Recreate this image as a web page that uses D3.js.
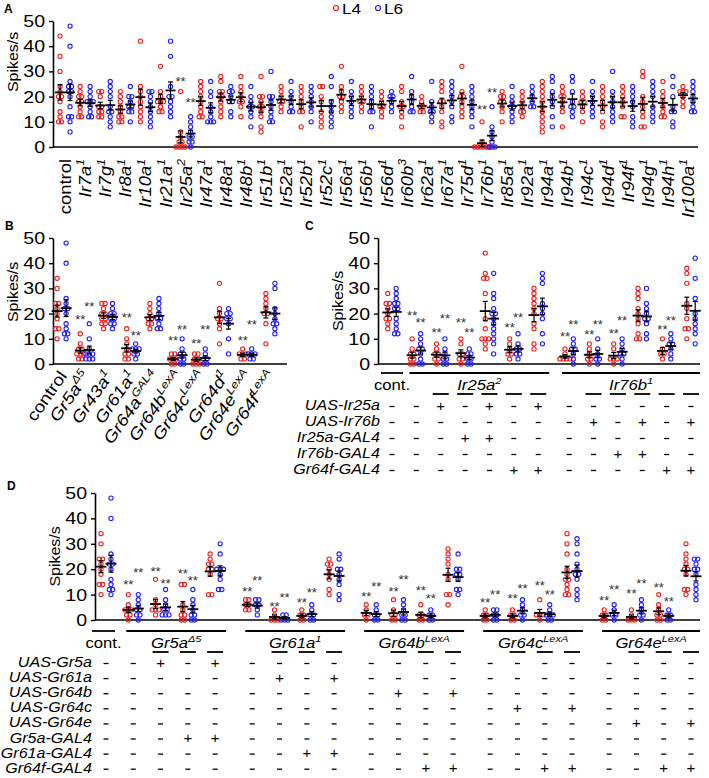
<!DOCTYPE html>
<html><head><meta charset="utf-8">
<script src="https://cdn.jsdelivr.net/npm/d3@7"></script>
<style>body{margin:0;background:#fff}svg text{font-family:"Liberation Sans",Arial,sans-serif}</style>
</head><body><svg id="c" width="709" height="778"></svg>
<script>
// ================= DATA =================
const yTicks = [0, 10, 20, 30, 40, 50];
const seriesNames = ["L4", "L6"];

// ---- Panel A ----
const labelsA = ["control","Ir7a","Ir7g","Ir8a","Ir10a","Ir21a","Ir25a","Ir47a","Ir48a","Ir48b","Ir51b","Ir52a","Ir52b","Ir52c","Ir56a","Ir56b","Ir56d","Ir60b","Ir62a","Ir67a","Ir75d","Ir76b","Ir85a","Ir92a","Ir94a","Ir94b","Ir94c","Ir94d","Ir94f","Ir94g","Ir94h","Ir100a"];
const supA = ["","1","1","1","1","1","2","1","1","1","1","1","1","1","1","1","1","3","1","1","1","1","1","1","1","1","1","1","1","1","1","1"];
const A_L4 = [
 [44,36,30,24,22,20,20,18,14,12,10,10],
 [24,22,20,20,18,18,16,14,12,12],
 [22,22,20,16,16,14,14,12,12],
 [22,20,18,16,14,12,12,10,10],
 [42,24,22,20,18,16,14,12,10],
 [32,22,20,18,18,18,16,14,14],
 [22,6,4,2,2,0,0,0,0],
 [26,24,22,20,18,16,14,12,12],
 [28,26,22,22,20,20,18,16,14,12],
 [28,24,22,20,18,18,16,12],
 [28,20,20,18,16,16,14,12,8,6],
 [24,22,20,18,18,16,14],
 [24,22,20,18,16,14,14,8],
 [24,24,20,18,14,12,10,8],
 [32,24,22,20,20,18,16,14],
 [24,22,20,18,18,16,14],
 [22,20,18,16,16,14,12],
 [24,22,18,16,16,14,12,8],
 [20,18,16,16,14,14],
 [26,24,22,18,18,16,14,10,8],
 [32,22,20,20,18,16,14,12],
 [10,2,0,0,0,0,0,0],
 [22,20,20,18,18,16,14,10],
 [22,20,18,16,14,14,12],
 [26,24,22,20,18,16,14,12,10,8,6],
 [24,22,20,20,18,16,14,8],
 [22,20,18,18,16,14,10],
 [24,22,20,18,16,14,10,8],
 [24,22,20,18,16,12,12],
 [30,28,20,18,16,14,12,8,8],
 [26,22,20,18,16,14,12,12],
 [24,22,22,22,20,18,16]
];
const A_L6 = [
 [48,40,26,24,24,22,22,20,16,12,12,10,6],
 [24,22,20,18,18,18,16,14,12,12],
 [26,24,22,20,16,14,14,12,10,8],
 [24,20,20,18,16,16,14,14,10],
 [22,22,20,18,16,14,12,10,8],
 [42,36,24,20,20,18,16,14,12],
 [12,10,8,6,4,4,2,2,0],
 [26,22,20,16,14,12,10,10,10],
 [24,22,22,20,18,18,14,12],
 [24,20,18,16,16,14,12,8],
 [30,20,20,18,16,14,12,10,10],
 [26,22,20,18,16,14,14],
 [24,22,20,18,16,14,10],
 [28,24,18,16,14,12,10,8],
 [26,22,20,18,16,14,12],
 [24,22,20,18,16,14,14,8],
 [22,20,20,18,16,14],
 [28,22,20,18,16,14,14],
 [26,18,16,14,14,12,10],
 [26,24,22,20,18,16,12,10],
 [24,22,20,18,16,14,12,8],
 [16,8,6,4,2,0,0,0],
 [24,20,18,16,16,14,12,10],
 [24,22,20,18,16,16],
 [28,26,22,20,18,16,12,8],
 [28,26,22,18,16,16,14,12],
 [26,22,20,18,16,14,12],
 [30,22,20,18,16,14,12,10],
 [24,22,20,18,16,12,10,8],
 [26,24,22,20,16,14,12,10],
 [28,24,20,16,14,14,10,8],
 [26,24,22,20,18,16,14,14]
];
const starsA_L4 = {6: 27, 21: 16};
const starsA_L6 = {6: 19, 21: 23};

// ---- Panel B ----
const labelsB = ["control","Gr5a","Gr43a","Gr61a","Gr64a","Gr64b","Gr64c","Gr64d","Gr64e","Gr64f"];
const supB = ["","Δ5","1","1","GAL4","LexA","LexA","1","LexA","LexA"];
const B_L4 = [
 [34,30,24,24,22,20,18,14,14,10],
 [12,8,6,6,4,4,4,2,2],
 [24,24,22,20,20,18,18,16,16,14],
 [14,10,8,6,4,4,2,2],
 [24,22,20,18,18,16,16,14],
 [4,4,2,2,2,0,0],
 [4,4,2,2,0,0,0],
 [32,22,20,18,18,16,14,8],
 [6,4,4,4,2,2],
 [28,26,24,22,20,20,16,8]
];
const B_L6 = [
 [48,40,26,24,22,22,20,16,14,12,12,10],
 [16,10,6,4,4,4,2,2,2],
 [24,22,20,20,18,18,16,16,14],
 [8,6,6,6,4,4,2],
 [26,24,22,20,18,18,16,14,14],
 [10,6,4,4,2,2,0,0],
 [6,4,2,2,0,0],
 [22,20,20,18,18,16,10,4],
 [6,4,4,4,2,2],
 [32,30,22,20,18,16,16,14,12]
];
const starsB_L4 = [null,19,null,19.5,null,10.5,9.5,null,10.5,null];
const starsB_L6 = [null,24,null,12.5,null,15,15,null,17,null];

// ---- Panel C ----
const groupsC = ["cont.","Ir25a","Ir76b"];
const groupSupC = ["","2","1"];
const groupSizeC = [1,6,6];
const rowsC = ["UAS-Ir25a","UAS-Ir76b","Ir25a-GAL4","Ir76b-GAL4","Gr64f-GAL4"];
const tableC = [
 "--+-+-+------",
 "--------+-+-+",
 "---++--------",
 "---------++--",
 "-----++----++"
];
const C_L4 = [
 [28,24,24,22,20,18,18,16,14],
 [10,6,4,4,2,2,0,0],
 [8,6,4,4,2,2,0],
 [10,8,4,4,2,2,0],
 [44,36,34,34,28,18,14,10,10,10,8,6],
 [10,8,6,4,4,2],
 [30,28,26,24,22,20,16,14,8,6],
 [6,4,2,2,2,2],
 [8,6,4,2,2,0],
 [8,6,2,2,2,0],
 [30,28,26,22,20,18,16,12,10,10],
 [10,6,4,4,2],
 [38,36,32,24,22,18,14,14,10]
];
const C_L6 = [
 [30,28,26,24,24,22,22,18,16,14,12,12],
 [12,10,8,6,6,4,2,0,0],
 [10,6,4,2,2,0,0],
 [6,4,4,2,2,0,0],
 [36,28,26,22,20,20,18,16,14,12,10,8,4],
 [12,8,6,6,4,4,2],
 [36,34,32,24,22,20,18,12,8],
 [10,8,6,6,4,2,0],
 [10,6,4,2,2,0],
 [10,8,6,4,4,2,0],
 [30,24,22,20,18,18,16,12,10],
 [12,10,8,8,6,4,2],
 [42,34,26,20,18,16,14,12,8]
];
const starsC_L4 = [null,20.5,13.5,17.7,null,15.5,null,12.3,13,13.2,null,14.8,null];
const starsC_L6 = [null,17.5,19.4,13.5,null,19.8,null,17,17,18.6,null,18.6,null];

// ---- Panel D ----
const groupsD = ["cont.","Gr5a","Gr61a","Gr64b","Gr64c","Gr64e"];
const groupSupD = ["","Δ5","1","LexA","LexA","LexA"];
const groupSizeD = [1,4,4,4,4,4];
const rowsD = ["UAS-Gr5a","UAS-Gr61a","UAS-Gr64b","UAS-Gr64c","UAS-Gr64e","Gr5a-GAL4","Gr61a-GAL4","Gr64f-GAL4"];
const tableD = [
 "--+-+----------------",
 "------+-+------------",
 "----------+-+--------",
 "--------------+-+----",
 "------------------+-+",
 "---++----------------",
 "-------++------------",
 "-----------++--++--++"
];
const D_L4 = [
 [34,30,24,24,22,20,18,14,14,10],
 [10,6,4,4,4,2,2,0],
 [16,8,6,4,4,4,2],
 [14,14,6,4,2,2,0,0],
 [26,24,22,22,20,20,18,10,10],
 [8,8,6,6,4,4],
 [4,2,0,0,0],
 [4,2,2,0,0],
 [24,22,22,20,18,16,12,10],
 [6,4,2,2,0],
 [8,4,2,2,0,0],
 [6,2,2,0,0],
 [28,26,24,22,18,16,10,10,6],
 [4,2,2,0,0],
 [4,2,2,0,0],
 [8,2,2,2,0],
 [34,30,26,20,18,16,16,14,12,10,10],
 [4,2,2,0,0],
 [4,2,0,0,0],
 [10,6,4,2,2,0,0],
 [30,26,24,22,20,20,18,12,12,10]
];
const D_L6 = [
 [48,40,26,24,22,22,20,16,14,12,12,10],
 [10,8,6,4,4,2,2,0],
 [12,8,6,4,4,2,2,2],
 [12,8,6,4,2,2,0,0],
 [30,26,20,20,20,18,16,12,12],
 [8,8,6,6,4,2],
 [2,2,0,0,0],
 [6,4,2,2,0,0],
 [26,24,20,20,18,16,14,10,8],
 [6,4,2,2,0,0],
 [8,6,4,2,2,0,0],
 [4,2,2,0,0],
 [26,20,20,18,18,16,12,12,10],
 [4,4,2,2,0,0],
 [8,6,4,2,2,0],
 [6,4,2,2,2,0,0],
 [32,30,26,22,20,18,18,16,12,10,8],
 [6,4,2,2,0],
 [8,6,4,2,2,0],
 [4,2,2,0,0],
 [24,24,22,20,20,18,14,12,10,8]
];
const starsD_L4 = [null,15.1,20.3,19.4,null,12.5,6.6,8.1,null,10.6,12.5,12.9,null,8.1,9.8,14.7,null,8.8,11.5,13.8,null];
const starsD_L6 = [null,20,15.7,16.8,null,16.7,10.2,12.2,null,14.2,17.3,9.6,null,11.4,13.4,11.2,null,13.1,15.7,8.3,null];

// ================= DRAWING =================
const RED = "#f21d1d", BLUE = "#1f1fff";
const SX = 1.15;
const svg = d3.select("#c");
svg.append("rect").attr("width",709).attr("height",778).attr("fill","#fff");

function stext(g, x, y, main, sup, o) {
  const t = g.append("text")
    .attr("transform", `translate(${x},${y}) rotate(${o.rot||0}) scale(${o.sx||SX},1)`)
    .attr("text-anchor", o.anchor || "start")
    .attr("font-size", o.size)
    .attr("font-style", o.italic ? "italic" : "normal")
    .attr("font-weight", o.bold ? "bold" : "normal")
    .attr("fill", o.fill || "#000");
  t.append("tspan").text(main);
  if (sup) t.append("tspan").attr("font-size", o.size * 0.66).attr("dy", -o.size * 0.42).text(sup);
  return t;
}

function yAxis(g, y, x0, size) {
  const ax = g.append("g").attr("transform", `translate(${x0},0)`)
    .call(d3.axisLeft(y).tickValues(yTicks).tickSize(4).tickSizeOuter(0).tickPadding(3));
  ax.select(".domain").attr("stroke-width", 1.6);
  ax.selectAll(".tick line").attr("stroke-width", 1.4);
  ax.selectAll(".tick text").attr("font-size", size).attr("fill", "#000")
    .attr("font-family", '"Liberation Sans",Arial,sans-serif')
    .attr("x", -8 / SX).attr("transform", `scale(${SX},1)`);
}

function dots(g, cx, y, vals, color, step, half) {
  const counts = d3.rollup(vals, v => v.length, d => d);
  const seen = new Map();
  vals.forEach(v => {
    const n = counts.get(v), k = seen.get(v) || 0;
    seen.set(v, k + 1);
    const off = (k - (n - 1) / 2) * step;
    g.append("circle").attr("cx", cx + off).attr("cy", y(v)).attr("r", 2.1)
      .attr("fill", "none").attr("stroke", color).attr("stroke-width", 1.1);
  });
  const m = d3.mean(vals), se = d3.deviation(vals) / Math.sqrt(vals.length);
  const k = g.append("g").attr("stroke", "#000");
  k.append("line").attr("x1", cx - half).attr("x2", cx + half).attr("y1", y(m)).attr("y2", y(m)).attr("stroke-width", 1.8);
  k.append("line").attr("x1", cx).attr("x2", cx).attr("y1", y(m - se)).attr("y2", y(m + se)).attr("stroke-width", 1.2);
  [m - se, m + se].forEach(v => k.append("line").attr("x1", cx - 2.5).attr("x2", cx + 2.5).attr("y1", y(v)).attr("y2", y(v)).attr("stroke-width", 1.2));
}

function star(g, cx, y, v) {
  if (v == null) return;
  g.append("text").attr("x", cx).attr("y", y(v) + 7.5).attr("text-anchor", "middle")
    .attr("font-size", 13).attr("fill", "#333").text("**");
}

function ylabel(g, x, yc, size) {
  stext(g, x, yc, "Spikes/s", "", {rot: -90, anchor: "middle", size: size, sx: 1.1});
}

// ---------- Panel A ----------
{
  const g = svg.append("g");
  const y = d3.scaleLinear().domain([0, 50]).range([147, 21]);
  const x = d3.scaleBand().domain(d3.range(labelsA.length)).range([55, 698]);
  yAxis(g, y, 53, 17);
  g.append("line").attr("x1", 53).attr("x2", 698).attr("y1", y(0)).attr("y2", y(0)).attr("stroke", "#000").attr("stroke-width", 1.6);
  labelsA.forEach((lab, i) => {
    const c = x(i) + x.bandwidth() / 2;
    dots(g, c - 5, y, A_L4[i], RED, 3.0, 5);
    dots(g, c + 5, y, A_L6[i], BLUE, 3.0, 5);
    if (starsA_L4[i] != null) star(g, c - 5, y, starsA_L4[i]);
    if (starsA_L6[i] != null) star(g, c + 5, y, starsA_L6[i]);
    stext(g, c + 6, 159, lab, supA[i], {rot: -90, anchor: "end", size: 16, italic: i > 0});
  });
  ylabel(g, 18, 62, 14.5);
  stext(g, 4, 13, "A", "", {size: 12, bold: true, sx: 1});
  // legend
  g.append("circle").attr("cx", 336).attr("cy", 8).attr("r", 2.5).attr("fill", "none").attr("stroke", RED).attr("stroke-width", 1.2);
  stext(g, 342, 14, seriesNames[0], "", {size: 15});
  g.append("circle").attr("cx", 378).attr("cy", 8).attr("r", 2.5).attr("fill", "none").attr("stroke", BLUE).attr("stroke-width", 1.2);
  stext(g, 384, 14, seriesNames[1], "", {size: 15});
}

// ---------- Panel B ----------
{
  const g = svg.append("g");
  const y = d3.scaleLinear().domain([0, 50]).range([364, 238]);
  const x = d3.scaleBand().domain(d3.range(labelsB.length)).range([50, 282]);
  yAxis(g, y, 53, 17);
  g.append("line").attr("x1", 53).attr("x2", 287).attr("y1", y(0)).attr("y2", y(0)).attr("stroke", "#000").attr("stroke-width", 1.6);
  labelsB.forEach((lab, i) => {
    const c = x(i) + x.bandwidth() / 2;
    dots(g, c - 4.5, y, B_L4[i], RED, 3.4, 5.5);
    dots(g, c + 4.5, y, B_L6[i], BLUE, 3.4, 5.5);
    star(g, c - 4.5, y, starsB_L4[i]);
    star(g, c + 4.5, y, starsB_L6[i]);
    stext(g, c + 6, 376, lab, supB[i], {rot: -55, anchor: "end", size: 16.5, italic: i > 0});
  });
  ylabel(g, 18, 292, 14.5);
  stext(g, 5, 230, "B", "", {size: 12, bold: true, sx: 1});
}

// helper for grouped panels (C, D)
function groupedPanel(o) {
  const g = svg.append("g");
  const y = d3.scaleLinear().domain([0, 50]).range([o.y0, o.y50]);
  // slot positions with extra gaps between genotype groups
  const slots = [];
  o.sizes.forEach((n, gi) => { for (let j = 0; j < n; j++) slots.push({gi, j, s: slots.length + o.gaps[gi]}); });
  const x = d3.scaleLinear().domain([0, slots[slots.length - 1].s]).range([o.xFirst, o.xLast]);
  yAxis(g, y, o.ax, 17);
  g.append("line").attr("x1", o.ax).attr("x2", 700).attr("y1", y(0)).attr("y2", y(0)).attr("stroke", "#000").attr("stroke-width", 1.6);
  slots.forEach((sl, i) => {
    const c = x(sl.s);
    dots(g, c - o.off, y, o.L4[i], RED, 3.4, 5.5);
    dots(g, c + o.off, y, o.L6[i], BLUE, 3.4, 5.5);
    star(g, c - o.off, y, o.s4[i]);
    star(g, c + o.off, y, o.s6[i]);
  });
  // group lines and labels
  o.names.forEach((nm, gi) => {
    const mem = slots.filter(s => s.gi === gi);
    const a = x(mem[0].s) - (gi === 0 ? o.contPad[0] : 7), b = Math.min(700, x(mem[mem.length - 1].s) + (gi === 0 ? o.contPad[1] : 11));
    g.append("line").attr("x1", a).attr("x2", b).attr("y1", o.lineY).attr("y2", o.lineY).attr("stroke", "#000").attr("stroke-width", 1.8);
    stext(g, (a + b) / 2, o.labY, nm, o.sups[gi], {anchor: "middle", size: 14.5, italic: gi > 0});
    if (gi > 0) mem.slice(1).forEach(s => {
      const c = x(s.s);
      g.append("line").attr("x1", c - 8).attr("x2", c + 8).attr("y1", o.shortY).attr("y2", o.shortY).attr("stroke", "#000").attr("stroke-width", 1.8);
    });
  });
  // table
  o.rows.forEach((r, ri) => {
    const yy = o.rowY0 + ri * o.rowStep;
    stext(g, o.rowX, yy + 5, r, "", {anchor: "end", size: 14, italic: true});
    o.table[ri].split("").forEach((ch, i) => {
      const c = x(slots[i].s);
      if (ch === "+") {
        g.append("text").attr("x", c).attr("y", yy + 5.5).attr("text-anchor", "middle").attr("font-size", 15).attr("fill", "#000").text("+");
      } else {
        g.append("line").attr("x1", c - 2.5).attr("x2", c + 2.5).attr("y1", yy + 1.5).attr("y2", yy + 1.5).attr("stroke", "#000").attr("stroke-width", 1.3);
      }
    });
  });
  ylabel(g, o.ylabX, (o.y0 + o.y50) / 2, 14.5);
  stext(g, o.letX, o.letY, o.letter, "", {size: 12, bold: true, sx: 1});
}

groupedPanel({
  letter: "C", letX: 305, letY: 230,
  y0: 364, y50: 238, ax: 378, xFirst: 392, xLast: 691, off: 4.2,
  sizes: groupSizeC, gaps: [0, 0, 0.27], names: groupsC, sups: groupSupC,
  L4: C_L4, L6: C_L6, s4: starsC_L4, s6: starsC_L6,
  lineY: 373, labY: 390, shortY: 394, contPad: [11, 11],
  rows: rowsC, table: tableC, rowY0: 405, rowStep: 16, rowX: 380, ylabX: 343
});

groupedPanel({
  letter: "D", letX: 7, letY: 490,
  y0: 620, y50: 493, ax: 95, xFirst: 106, xLast: 691, off: 5,
  sizes: groupSizeD, gaps: [0, 0, 0.36, 0.72, 1.08, 1.44], names: groupsD, sups: groupSupD,
  L4: D_L4, L6: D_L6, s4: starsD_L4, s6: starsD_L6,
  lineY: 631, labY: 648, shortY: 652, contPad: [14, 9],
  rows: rowsD, table: tableD, rowY0: 662, rowStep: 15.1, rowX: 92, ylabX: 60
});
</script></body></html>
